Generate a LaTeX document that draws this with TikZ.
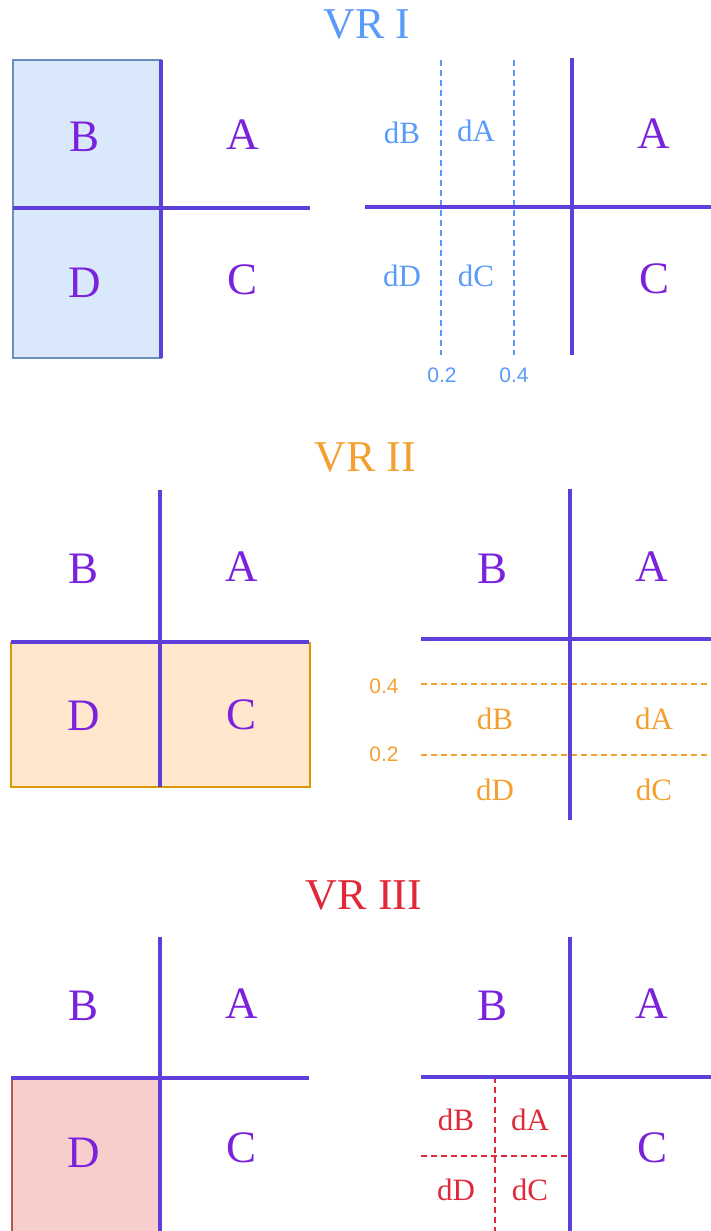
\documentclass[tikz,border=0pt]{standalone}
\usepackage{fontspec}
\setmainfont{Liberation Serif}
\newfontfamily\numfont{Liberation Sans}
\definecolor{axis}{HTML}{5E3FDC}
\definecolor{lbl}{HTML}{7A22DC}
\definecolor{vrone}{HTML}{5A9AF8}
\definecolor{vrtwo}{HTML}{F4A030}
\definecolor{vrthree}{HTML}{E02838}
\definecolor{bluefill}{HTML}{DAE8FC}
\definecolor{bluedraw}{HTML}{6C8EBF}
\definecolor{orfill}{HTML}{FFE6CC}
\definecolor{ordraw}{HTML}{D79B00}
\definecolor{redfill}{HTML}{F8CECC}
\definecolor{reddraw}{HTML}{B85450}
\tikzset{
  axisline/.style={draw=axis, line width=3.5pt},
  big/.style={text=lbl, font=\fontsize{45}{50}\selectfont, inner sep=0pt},
  ttl/.style={font=\fontsize{44}{50}\selectfont, inner sep=0pt},
  small/.style={font=\fontsize{31}{36}\selectfont, inner sep=0pt},
  num/.style={font=\numfont\fontsize{21}{25}\selectfont, inner sep=0pt},
  dashln/.style={line width=1.6pt, dash pattern=on 6pt off 4pt},
}
\begin{document}
\begin{tikzpicture}[x=1pt,y=-1pt]
\useasboundingbox (0,0) rectangle (711,1231);
% ---------------- VR I ----------------
\node[ttl, text=vrone] (t1) at (367,24) {VR I};
\draw[fill=bluefill, draw=bluedraw, line width=1.5pt] (13,60) rectangle (161,358);
\draw[axisline] (161,60) -- (161,358);
\draw[axisline] (13,208) -- (310,208);
\node[big] (b1) at (85,137) {B};
\node[big] (a1) at (243,135) {A};
\node[big] (d1) at (85,283) {D};
\node[big] (c1) at (243,280) {C};
% right
\draw[vrone, dashln] (441,60) -- (441,355);
\draw[vrone, dashln] (514,60) -- (514,355);
\draw[axisline] (365,207) -- (711,207);
\draw[axisline] (572,58) -- (572,355);
\node[small, text=vrone] (db1) at (402,133) {dB};
\node[small, text=vrone] (da1) at (476,131) {dA};
\node[small, text=vrone] (dd1) at (402,276) {dD};
\node[small, text=vrone] (dc1) at (476,276) {dC};
\node[big] (a1r) at (654,134) {A};
\node[big] (c1r) at (654,279) {C};
\node[num, text=vrone] (n12) at (442,375) {0.2};
\node[num, text=vrone] (n14) at (514,375) {0.4};
% ---------------- VR II ----------------
\node[ttl, text=vrtwo] (t2) at (365,457) {VR II};
\draw[fill=orfill, draw=ordraw, line width=1.5pt] (11,643) rectangle (310,787);
\draw[axisline] (160,490) -- (160,787);
\draw[axisline] (11,642) -- (309,642);
\node[big] (b2) at (84,569) {B};
\node[big] (a2) at (242,567) {A};
\node[big] (d2) at (84,716) {D};
\node[big] (c2) at (242,715) {C};
% right
\draw[vrtwo, dashln] (421,684) -- (711,684);
\draw[vrtwo, dashln] (421,755) -- (711,755);
\draw[axisline] (421,639) -- (711,639);
\draw[axisline] (570,489) -- (570,820);
\node[big] (b2r) at (493,569) {B};
\node[big] (a2r) at (652,567) {A};
\node[num, text=vrtwo] (n24) at (384,686) {0.4};
\node[num, text=vrtwo] (n22) at (384,754) {0.2};
\node[small, text=vrtwo] (db2) at (495,719) {dB};
\node[small, text=vrtwo] (da2) at (654,719) {dA};
\node[small, text=vrtwo] (dd2) at (495,790) {dD};
\node[small, text=vrtwo] (dc2) at (654,790) {dC};
% ---------------- VR III ----------------
\node[ttl, text=vrthree] (t3) at (364,895) {VR III};
\draw[fill=redfill, draw=reddraw, line width=1.5pt] (12,1078) rectangle (160,1240);
\draw[axisline] (160,937) -- (160,1231);
\draw[axisline] (11,1078) -- (309,1078);
\node[big] (b3) at (84,1006) {B};
\node[big] (a3) at (242,1004) {A};
\node[big] (d3) at (84,1153) {D};
\node[big] (c3) at (242,1148) {C};
% right
\draw[vrthree, dashln] (495,1077) -- (495,1231);
\draw[vrthree, dashln] (421,1156) -- (570,1156);
\draw[axisline] (421,1077) -- (711,1077);
\draw[axisline] (570,937) -- (570,1231);
\node[big] (b3r) at (493,1006) {B};
\node[big] (a3r) at (652,1004) {A};
\node[big] (c3r) at (652,1148) {C};
\node[small, text=vrthree] (db3) at (456,1120) {dB};
\node[small, text=vrthree] (da3) at (530,1120) {dA};
\node[small, text=vrthree] (dd3) at (456,1190) {dD};
\node[small, text=vrthree] (dc3) at (530,1190) {dC};
\end{tikzpicture}
\end{document}
